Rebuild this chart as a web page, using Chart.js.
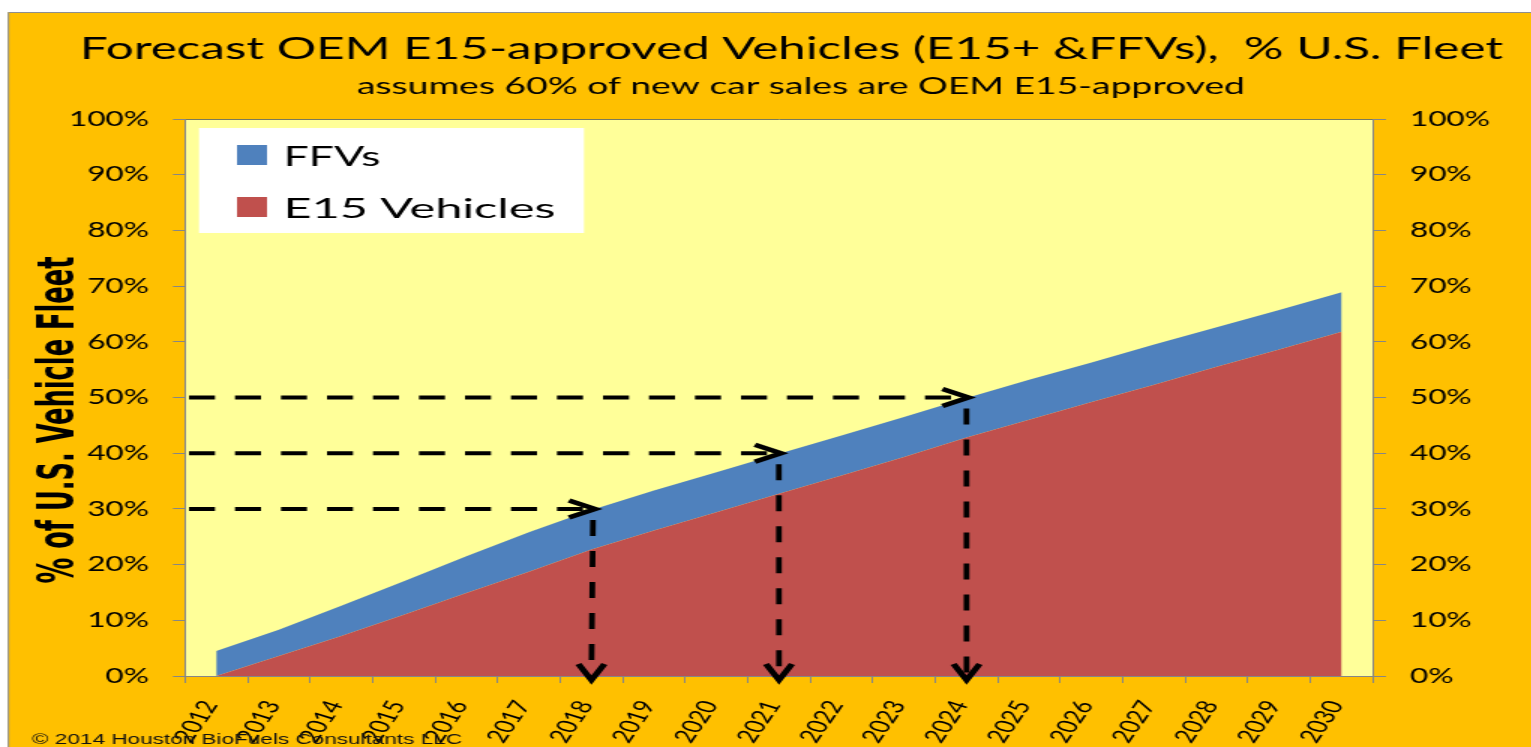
<!DOCTYPE html>
<html>
<head>
<meta charset="utf-8">
<title>Forecast OEM E15-approved Vehicles</title>
<script src="https://cdn.jsdelivr.net/npm/chart.js@4.4.1/dist/chart.umd.min.js"></script>
<style>
  html, body { margin: 0; padding: 0; background: #fff; overflow: hidden; }
  /* the original picture is a horizontally stretched Excel chart */
  #wrap { width: 1021px; height: 747px; transform: scaleX(1.5); transform-origin: 0 0; }
</style>
</head>
<body>
<div id="wrap"><canvas id="fleetChart" width="1021" height="747"></canvas></div>
<script>
// ── Data (% of U.S. vehicle fleet) ─────────────────────────
var years = ['2012', '2013', '2014', '2015', '2016', '2017', '2018', '2019', '2020', '2021',
             '2022', '2023', '2024', '2025', '2026', '2027', '2028', '2029', '2030'];
var e15Share = [0, 3.6, 7.2, 11.0, 14.9, 18.7, 22.7, 26.1, 29.4, 32.7,
                36.0, 39.3, 42.8, 46.0, 49.2, 52.3, 55.5, 58.6, 61.8];
var ffvShare = [4.5, 4.7, 5.4, 6.0, 6.6, 7.1, 7.1, 7.2, 7.2, 7.2,
                7.2, 7.2, 7.1, 7.2, 7.1, 7.2, 7.1, 7.1, 7.1];
var pctTicks = [0, 10, 20, 30, 40, 50, 60, 70, 80, 90, 100];
var arrowYears = ['2018', '2021', '2024'];
var arrowLevels = [30, 40, 50];

var STRETCH = 1.5;
function sx(v) { return v / STRETCH; }   // picture x (px) -> canvas units

var AXIS_GREY = '#868686';
var TEXT_FONT = 'Lato, "Open Sans", sans-serif';

// draw text squeezed/stretched to a given width
function fitText(ctx, text, x, y, width, align) {
  var w = ctx.measureText(text).width;
  ctx.save();
  ctx.translate(x, y);
  ctx.scale(width / w, 1);
  ctx.textAlign = align || 'left';
  ctx.fillText(text, 0, 0);
  ctx.restore();
}

// ── Background, plot area, titles, legend, arrows ──────────
var decorPlugin = {
  id: 'decor',
  beforeDraw: function(chart) {
    var ctx = chart.ctx, a = chart.chartArea;
    ctx.save();
    ctx.fillStyle = '#ffffff';
    ctx.fillRect(0, 0, chart.width, chart.height);
    ctx.fillStyle = '#FFC000';
    ctx.fillRect(sx(8), 12, chart.width, chart.height);
    ctx.strokeStyle = '#8e8e8e';
    ctx.lineWidth = 1;
    ctx.beginPath();
    ctx.moveTo(sx(8.5), chart.height);
    ctx.lineTo(sx(8.5), 12.5);
    ctx.lineTo(chart.width, 12.5);
    ctx.stroke();
    ctx.fillStyle = '#FFFF99';
    ctx.fillRect(a.left, a.top, a.right - a.left, a.bottom - a.top);
    ctx.strokeStyle = '#7a7a5a';
    ctx.beginPath();
    ctx.moveTo(a.left, a.top + 0.5);
    ctx.lineTo(a.right, a.top + 0.5);
    ctx.stroke();
    ctx.restore();
  },
  afterDatasetsDraw: function(chart) {
    var ctx = chart.ctx, a = chart.chartArea;
    var xs = chart.scales.x, ys = chart.scales.y;
    var totals = e15Share.map(function(v, i) { return v + ffvShare[i]; });

    ctx.save();
    ctx.strokeStyle = '#000';
    arrowLevels.forEach(function(level, k) {
      var idx = years.indexOf(arrowYears[k]);
      // where the stacked total crosses this level
      var t = idx;
      for (var i = 0; i < totals.length - 1; i++) {
        if (totals[i] <= level && totals[i + 1] >= level) {
          t = i + (level - totals[i]) / (totals[i + 1] - totals[i]);
          break;
        }
      }
      var tipX = xs.getPixelForValue(t), tipY = ys.getPixelForValue(level);
      var baseX = xs.getPixelForValue(idx), baseY = ys.getPixelForValue(0);

      // horizontal dashed arrow
      ctx.lineCap = 'butt';
      ctx.lineWidth = 4;
      ctx.setLineDash([sx(26), sx(20)]);
      ctx.beginPath();
      ctx.moveTo(a.left + sx(4), tipY);
      ctx.lineTo(tipX - sx(4), tipY);
      ctx.stroke();
      ctx.setLineDash([]);
      ctx.lineWidth = 4.5;
      ctx.lineJoin = 'miter';
      ctx.beginPath();
      ctx.moveTo(tipX - sx(26), tipY - 8.5);
      ctx.lineTo(tipX, tipY);
      ctx.lineTo(tipX - sx(26), tipY + 8.5);
      ctx.stroke();

      // vertical dashed arrow down to the axis
      ctx.lineWidth = sx(5.7);
      ctx.setLineDash([16, 15]);
      ctx.beginPath();
      ctx.moveTo(tipX - sx(2), tipY + 11);
      ctx.lineTo(baseX, baseY - 2);
      ctx.stroke();
      ctx.setLineDash([]);
      ctx.lineWidth = 4.5;
      ctx.beginPath();
      ctx.moveTo(baseX - sx(13), baseY + 4 - 16);
      ctx.lineTo(baseX, baseY + 4);
      ctx.lineTo(baseX + sx(13), baseY + 4 - 16);
      ctx.stroke();
    });
    ctx.restore();
  },
  afterDraw: function(chart) {
    var ctx = chart.ctx;
    ctx.save();
    ctx.fillStyle = '#000';
    ctx.textBaseline = 'alphabetic';

    // titles
    ctx.font = '31px ' + TEXT_FONT;
    fitText(ctx, 'Forecast OEM E15-approved Vehicles (E15+ &FFVs),  % U.S. Fleet',
            sx(791.5), 58.5, sx(1423), 'center');
    ctx.font = '23px ' + TEXT_FONT;
    fitText(ctx, 'assumes 60% of new car sales are OEM E15-approved',
            sx(801), 93.5, sx(888), 'center');

    // y axis title
    ctx.save();
    ctx.translate(sx(73), 420);
    ctx.rotate(-Math.PI / 2);
    ctx.font = 'bold 33px "Liberation Sans Narrow", "DejaVu Sans Condensed", "Liberation Sans", sans-serif';
    fitText(ctx, '% of U.S. Vehicle Fleet', 0, 0, 327, 'center');
    ctx.restore();

    // legend
    ctx.fillStyle = '#ffffff';
    ctx.fillRect(sx(199), 128, sx(385), 105);
    var items = chart.data.datasets.slice().reverse();
    var textW = { 'FFVs': sx(97), 'E15 Vehicles': sx(272) };
    ctx.font = '27px ' + TEXT_FONT;
    items.forEach(function(ds, i) {
      var top = 145 + 52 * i;
      ctx.fillStyle = ds.backgroundColor;
      ctx.fillRect(sx(237), top, sx(30), 20);
      ctx.fillStyle = '#000';
      fitText(ctx, ds.label, sx(283.5), top + 20.5, textW[ds.label], 'left');
    });

    // footer
    ctx.fillStyle = '#111';
    ctx.font = '14px "Liberation Sans", Arial, sans-serif';
    fitText(ctx, '\u00A9 2014 Houston BioFuels Consultants LLC', sx(32), 744, sx(430), 'left');
    ctx.restore();
  }
};

var tickFont = { family: TEXT_FONT, size: 21 };

new Chart(document.getElementById('fleetChart'), {
  type: 'line',
  data: {
    labels: years,
    datasets: [
      {
        label: 'E15 Vehicles',
        data: e15Share,
        backgroundColor: '#C0504D',
        borderColor: 'rgba(0,0,0,0)',
        borderWidth: 0,
        pointRadius: 0,
        pointHoverRadius: 0,
        tension: 0,
        fill: 'origin'
      },
      {
        label: 'FFVs',
        data: ffvShare,
        backgroundColor: '#4F81BD',
        borderColor: 'rgba(0,0,0,0)',
        borderWidth: 0,
        pointRadius: 0,
        pointHoverRadius: 0,
        tension: 0,
        fill: '-1'
      }
    ]
  },
  options: {
    responsive: false,
    animation: false,
    events: [],
    layout: { padding: { top: 119, left: 0, right: 0, bottom: 0 } },
    plugins: {
      legend: { display: false },
      title: { display: false },
      tooltip: { enabled: false }
    },
    scales: {
      x: {
        type: 'category',
        offset: true,
        grid: { offset: true, drawOnChartArea: false, tickLength: 7, color: AXIS_GREY },
        border: { color: AXIS_GREY },
        ticks: {
          autoSkip: false, minRotation: 65, maxRotation: 65, padding: 14, labelOffset: -sx(6),
          color: '#000', font: { family: TEXT_FONT, size: 19 }
        },
        afterFit: function(scale) { scale.height = 747 - 676; }
      },
      y: {
        position: 'left',
        stacked: true,
        min: 0, max: 100,
        grid: { drawOnChartArea: false, tickLength: sx(12), color: AXIS_GREY },
        border: { color: AXIS_GREY },
        ticks: { padding: sx(24), color: '#000', font: tickFont,
                 callback: function(v) { return v + '%'; } },
        afterBuildTicks: function(scale) { scale.ticks = pctTicks.map(function(v) { return { value: v }; }); },
        afterFit: function(scale) { scale.width = sx(185); }
      },
      y2: {
        position: 'right',
        min: 0, max: 100,
        grid: { drawOnChartArea: false, tickLength: sx(13), color: AXIS_GREY },
        border: { color: AXIS_GREY },
        ticks: { padding: sx(24), color: '#000', font: tickFont,
                 callback: function(v) { return v + '%'; } },
        afterBuildTicks: function(scale) { scale.ticks = pctTicks.map(function(v) { return { value: v }; }); },
        afterFit: function(scale) { scale.width = 1021 - sx(1373); }
      }
    }
  },
  plugins: [decorPlugin]
});
</script>
</body>
</html>
